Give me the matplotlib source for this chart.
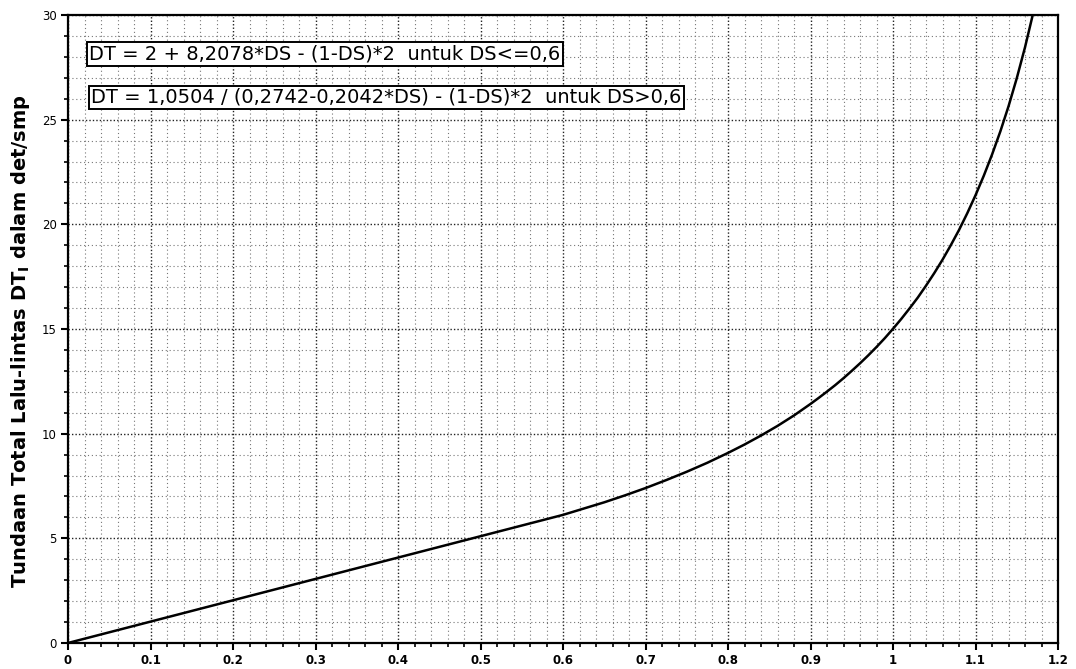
import matplotlib
matplotlib.use("Agg")
import matplotlib.pyplot as plt
from matplotlib.ticker import MultipleLocator, FixedLocator

# Values
ds = [0.0, 0.1, 0.2, 0.3, 0.4, 0.5, 0.6, 0.625, 0.65, 0.675, 0.7, 0.725, 0.75,
      0.775, 0.8, 0.82, 0.84, 0.86, 0.88, 0.9, 0.91, 0.92, 0.93, 0.94, 0.95,
      0.96, 0.97, 0.98, 0.99, 1.0, 1.01, 1.02, 1.03, 1.04, 1.05, 1.06, 1.07,
      1.08, 1.09, 1.1, 1.11, 1.12, 1.13, 1.14, 1.15, 1.16, 1.17]
dt = [0.0, 1.02, 2.04, 3.06, 4.08, 5.10, 6.12, 6.42, 6.72, 7.05, 7.40, 7.78, 8.18,
      8.61, 9.08, 9.48, 9.91, 10.37, 10.87, 11.42, 11.71, 12.01, 12.32, 12.65, 13.0,
      13.36, 13.74, 14.14, 14.56, 15.01, 15.48, 15.98, 16.50, 17.07, 17.67, 18.31, 19.00,
      19.73, 20.53, 21.39, 22.32, 23.33, 24.43, 25.64, 26.98, 28.46, 30.11]

xticks = [0, 0.1, 0.2, 0.3, 0.4, 0.5, 0.6, 0.7, 0.8, 0.9, 1.0, 1.1, 1.2]
xticklabels = ["0", "0.1", "0.2", "0.3", "0.4", "0.5", "0.6", "0.7", "0.8", "0.9", "1", "1.1", "1.2"]
yticks = [0, 5, 10, 15, 20, 25, 30]
ylabel = "Tundaan Total Lalu-lintas DT$_\\mathregular{I}$ dalam det/smp"
eq1 = "DT = 2 + 8,2078*DS - (1-DS)*2  untuk DS<=0,6"
eq2 = "DT = 1,0504 / (0,2742-0,2042*DS) - (1-DS)*2  untuk DS>0,6"

fig = plt.figure(figsize=(10.76, 6.69), dpi=100)
ax = fig.add_axes([0.0632, 0.0389, 0.9201, 0.9387])

ax.set_xlim(0, 1.2)
ax.set_ylim(0, 30)
ax.xaxis.set_major_locator(FixedLocator(xticks))
ax.set_xticklabels(xticklabels)
ax.yaxis.set_major_locator(FixedLocator(yticks))
ax.xaxis.set_minor_locator(MultipleLocator(0.02))
ax.yaxis.set_minor_locator(MultipleLocator(1))

ax.grid(which="major", color="#222222", linestyle=(0, (1, 1.5)), linewidth=1.0)
ax.grid(which="minor", color="#777777", linestyle=(0, (1, 2.5)), linewidth=0.8)
ax.set_axisbelow(True)

for s in ax.spines.values():
    s.set_linewidth(1.6)
    s.set_color("black")

ax.tick_params(which="major", direction="out", length=5, width=1.5, labelsize=8.5, pad=3)
ax.tick_params(which="minor", direction="out", length=3, width=1.2)
for lab in ax.get_xticklabels():
    lab.set_fontweight("bold")

ax.plot(ds, dt, color="black", linewidth=1.8, clip_on=True, zorder=3)

ax.set_ylabel(ylabel, fontsize=14, fontweight="bold")
ax.yaxis.set_label_coords(-0.036, 0.48)

bbox = dict(boxstyle="square,pad=0.12", facecolor="white", edgecolor="black", linewidth=1.4)
ax.text(0.0255, 28.14, eq1, fontsize=14, va="center", ha="left", bbox=bbox, zorder=4)
ax.text(0.028, 26.06, eq2, fontsize=14, va="center", ha="left", bbox=bbox, zorder=4)

fig.savefig("out.png", dpi=100)
